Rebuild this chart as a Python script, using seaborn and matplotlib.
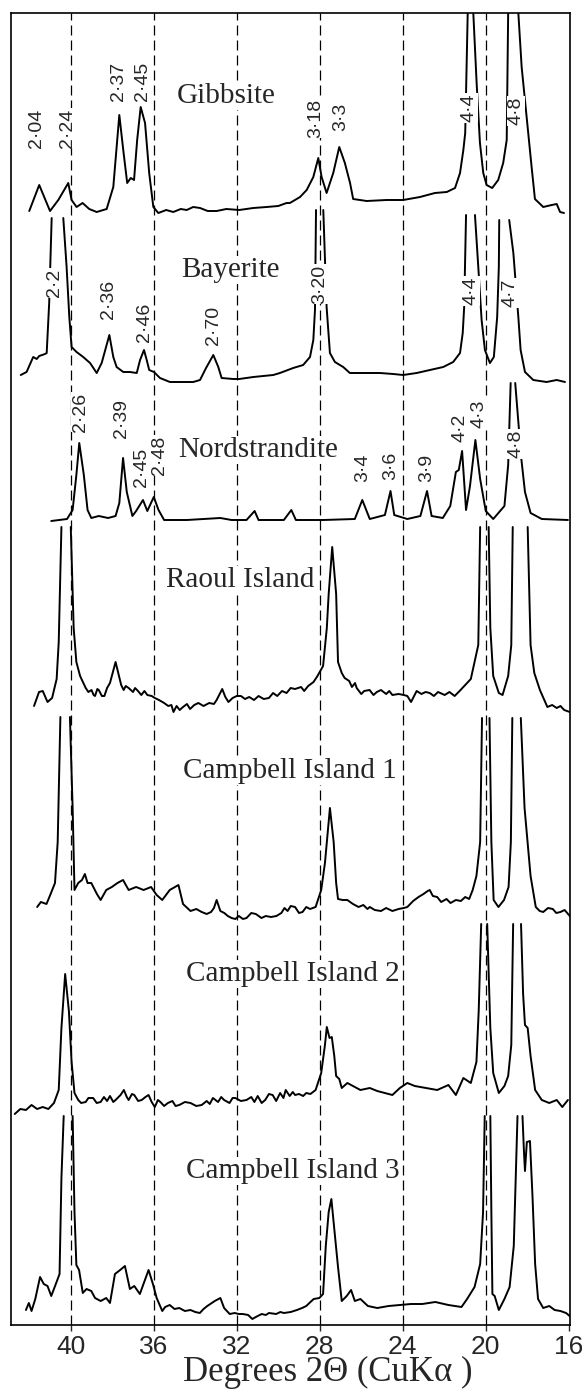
import matplotlib
matplotlib.use("Agg")
import matplotlib.pyplot as plt
import pandas as pd
import seaborn as sns

# X-ray diffractograms, stacked; None marks where a tall peak runs off (cut)
SAMPLES = ["Gibbsite", "Bayerite", "Nordstrandite", "Raoul Island",
           "Campbell Island 1", "Campbell Island 2", "Campbell Island 3"]
OFFSETS = [1115, 950, 805, 625, 415, 225, 20]

GIBBSITE_2THETA = [42.0, 41.52, 41.0, 40.6, 40.12, 39.96, 39.72, 39.43, 39.11, 38.75, 38.27,
                   37.95, 37.66, 37.47, 37.28, 37.11, 36.95, 36.8, 36.63, 36.42, 36.22, 36.02,
                   35.78, 35.4, 35.06, 34.7, 34.41, 34.1, 33.77, 33.4, 32.97, 32.5, 31.88, 31.2,
                   30.56, 30.0, 29.6, 29.44, 28.95, 28.63, 28.31, 28.07, 27.91, 27.67, 27.35,
                   27.06, 26.79, 26.54, 26.39, 25.74, 24.78, 23.98, 23.17, 22.45, 21.88, 21.48,
                   21.24, 21.08, 20.99, 20.87, None, 20.6, 20.44, 20.28, 20.12, 19.96, 19.69,
                   19.40, 19.16, 18.99, 18.92, None, 18.43, 18.27, 18.03, 17.79, 17.63, 17.23,
                   16.82, 16.58, 16.42, 16.23]
GIBBSITE_COUNTS = [-1, 25, -1, 10, 27, 10, 3, 7, 1, -2, 1,
                   23, 95, 60, 27, 32, 30, 70, 103, 87, 37, 3,
                   -3, 0, -2, 1, 0, 3, 2, -1, -1, 1, 0, 2,
                   3, 4, 7, 7, 13, 20, 33, 52, 33, 17, 37,
                   63, 47, 27, 11, 9, 10, 10, 13, 17, 18, 22,
                   37, 60, 77, 197, None, 197, 127, 67, 37, 25, 22,
                   30, 47, 70, 197, None, 197, 143, 93, 43, 11, 3,
                   5, 6, -2, -3]

BAYERITE_2THETA = [42.41, 42.13, 41.81, 41.64, 41.52, 41.24, 41.16, 41.04, 40.92, None,
                   40.36, 40.2, 40.07, 39.96, 39.72, 39.4, 39.07, 38.75, 38.51, 38.14, 37.95,
                   37.79, 37.47, 37.15, 36.82, 36.66, 36.47, 36.34, 36.22, 35.99, 35.7, 35.22,
                   34.58, 34.1, 33.77, 33.48, 33.13, 32.89, 32.73, 32.17, 31.88, 31.2, 30.24,
                   29.92, 29.28, 28.8, 28.47, 28.31, 28.23, 28.18, None, 27.83, 27.67, 27.51,
                   27.27, 26.87, 26.55, 25.9, 25.1, 24.46, 23.98, 23.33, 22.69, 22.05, 21.57,
                   21.24, 21.11, 21.04, 20.95, None, 20.52, 20.36, 20.2, 20.04, 19.8, 19.61,
                   19.45, 19.37, 19.35, None, 18.87, 18.67, 18.43, 18.32, 18.11, 17.71, 17.07,
                   16.58, 16.18]
BAYERITE_COUNTS = [0, 3, 18, 16, 19, 21, 22, 72, 157, None,
                   157, 108, 58, 28, 23, 18, 12, 2, 12, 40, 18,
                   8, 3, 3, 2, 15, 25, 15, 5, 3, -3, -7,
                   -7, -7, -5, 7, 20, 8, -3, -4, -4, -2, 0,
                   2, 7, 10, 18, 35, 65, 165, None, 165, 68, 22,
                   13, 8, 2, 2, 2, 1, 0, 2, 5, 8, 13,
                   22, 42, 68, 160, None, 160, 108, 55, 25, 12, 18,
                   58, 108, 155, None, 155, 122, 58, 25, 3, -5, -7,
                   -5, -7]

NORDSTRANDITE_2THETA = [40.94, 40.18, 39.91, 39.73, 39.59, 39.37, 39.19, 39.01, 38.65, 38.2,
                        37.84, 37.66, 37.48, 37.3, 37.03, 36.85, 36.52, 36.31, 36.0, 35.77,
                        35.5, 34.41, 32.79, 32.25, 31.53, 31.14, 30.95, 29.73, 29.37, 29.15,
                        27.84, 26.31, 25.95, 25.59, 24.86, 24.59, 24.41, 23.78, 23.15, 22.83,
                        22.61, 22.07, 21.71, 21.44, 21.3, 21.14, 20.95, 20.76, 20.5, 20.27,
                        20.0, 19.64, 19.1, 18.92, 18.8, None, 18.58, 18.29, 18.11, 17.84,
                        17.3, 16.04]
NORDSTRANDITE_COUNTS = [-1, 1, 10, 45, 77, 45, 10, 2, 4, 2,
                        4, 17, 62, 28, 4, 9, 20, 9, 23, 10,
                        0, 0, 2, 0, 0, 9, 0, 0, 10, 0,
                        0, 1, 20, 1, 5, 29, 5, 1, 4, 29,
                        4, 2, 14, 48, 50, 69, 10, 34, 80, 41,
                        9, 1, 14, 55, 137, None, 137, 62, 28, 7,
                        1, 0]

RAOUL_2THETA = [41.77, 41.53, 41.35, 41.12, 40.9, 40.68, 40.58, 40.45, None, 40.0, 39.86,
                39.73, 39.55, 39.28, 39.15, 39.0, 38.9, 38.83, 38.72, 38.65, 38.5, 38.38,
                38.25, 38.11, 37.84, 37.57, 37.45, 37.35, 37.21, 37.0, 36.9, 36.76, 36.6,
                36.45, 36.31, 36.1, 35.95, 35.75, 35.5, 35.3, 35.15, 35.05, 34.9, 34.75,
                34.59, 34.4, 34.25, 34.05, 33.85, 33.6, 33.33, 33.1, 32.97, 32.7, 32.55,
                32.4, 32.2, 32.0, 31.8, 31.6, 31.4, 31.17, 30.95, 30.7, 30.45, 30.25,
                30.05, 29.82, 29.6, 29.4, 29.19, 28.9, 28.75, 28.56, 28.3, 28.11, 27.84,
                27.66, 27.57, 27.4, 27.21, 27.12, 26.94, 26.8, 26.58, 26.45, 26.3, 26.22,
                26.0, 25.86, 25.6, 25.41, 25.25, 25.05, 24.8, 24.65, 24.5, 24.2, 23.95,
                23.78, 23.6, 23.33, 23.1, 22.9, 22.7, 22.5, 22.3, 21.98, 21.75, 21.5,
                21.26, 20.72, 20.36, 20.27, None, 19.86, 19.78, 19.64, 19.37, 19.19, 18.92,
                18.77, 18.7, None, 17.98, 17.84, 17.66, 17.39, 17.03, 16.8, 16.58, 16.4,
                16.22, 15.95]
RAOUL_COUNTS = [-6, 8, 9, -2, 2, 21, 58, 173, None, 173, 72,
                38, 24, 12, 8, 10, 5, 4, 11, 10, 4, 4,
                12, 17, 38, 15, 10, 14, 12, 8, 12, 9, 5,
                9, 5, 4, 2, 0, -3, -6, -5, -12, -6, -10,
                -7, -4, -9, -5, -3, -6, -3, -4, 0, 11, 3,
                -2, 2, 4, 4, 1, 3, 0, 4, 1, 2, 7,
                4, 9, 7, 12, 11, 13, 9, 14, 18, 24, 34,
                72, 106, 153, 106, 38, 27, 22, 19, 13, 17, 12,
                6, 9, 10, 5, 8, 10, 6, 9, 5, 6, 5,
                4, -2, 9, 6, 8, 7, 4, 8, 5, 8, 4,
                9, 21, 55, 173, None, 173, 72, 24, 7, 5, 24,
                55, 173, None, 173, 55, 27, 10, -7, -5, -8, -6,
                -10, -12]

CAMPBELL1_2THETA = [41.62, 41.44, 41.17, 40.99, 40.76, 40.63, 40.5, None, 40.04, 39.91, 39.82,
                    39.64, 39.46, 39.32, 39.19, 39.01, 38.74, 38.56, 38.29, 38.02, 37.75, 37.48,
                    37.21, 36.85, 36.49, 36.13, 35.86, 35.59, 35.23, 34.81, 34.59, 34.23, 33.95,
                    33.69, 33.45, 33.24, 33.1, 32.97, 32.79, 32.6, 32.43, 32.25, 32.07, 31.9,
                    31.7, 31.53, 31.3, 31.08, 30.81, 30.6, 30.35, 30.09, 29.85, 29.7, 29.55,
                    29.4, 29.19, 29.0, 28.83, 28.65, 28.47, 28.2, 27.93, 27.75, 27.51, 27.33,
                    27.21, 27.12, 26.9, 26.67, 26.4, 26.13, 25.9, 25.7, 25.59, 25.35, 25.05,
                    24.8, 24.5, 24.2, 23.95, 23.78, 23.5, 23.24, 23.0, 22.8, 22.7, 22.55,
                    22.34, 22.15, 21.89, 21.7, 21.44, 21.2, 20.99, 20.8, 20.63, 20.45, 20.27,
                    20.18, None, 19.82, 19.73, 19.62, 19.39, 19.12, 18.9, 18.79, 18.72, None,
                    18.31, 18.13, 17.84, 17.59, 17.4, 17.23, 17.0, 16.77, 16.6, 16.4, 16.2,
                    15.95]
CAMPBELL1_COUNTS = [3, 8, 6, 15, 27, 68, 193, None, 193, 102, 20,
                    27, 30, 36, 27, 27, 16, 10, 20, 23, 27, 30,
                    20, 23, 20, 23, 15, 10, 20, 25, 6, -1, 1,
                    -2, -4, -2, 2, 10, -1, -3, -6, -8, -9, -6,
                    -9, -8, -3, -4, -8, -6, -7, -6, -3, 2, -1,
                    4, 3, -3, -2, 3, 1, 3, 20, 47, 102, 68,
                    27, 11, 10, 10, 6, 3, 5, 1, 3, 0, -1,
                    2, -1, 1, 2, 3, 9, 13, 16, 19, 20, 14,
                    13, 8, 11, 7, 10, 9, 13, 11, 20, 34, 68,
                    192, None, 192, 68, 10, 3, 10, 23, 68, 192, None,
                    192, 102, 34, 3, -1, -2, 2, 1, -3, -2, 0,
                    -6]

CAMPBELL2_2THETA = [42.7, 42.43, 42.16, 41.89, 41.62, 41.35, 41.08, 40.81, 40.58, 40.45, 40.27,
                    40.09, 39.96, 39.82, 39.64, 39.5, 39.28, 39.15, 38.92, 38.75, 38.56, 38.4,
                    38.25, 38.11, 37.95, 37.84, 37.6, 37.44, 37.3, 37.21, 37.05, 36.94, 36.75,
                    36.58, 36.4, 36.25, 36.1, 35.95, 35.8, 35.68, 35.5, 35.32, 35.1, 34.95,
                    34.77, 34.5, 34.23, 33.95, 33.69, 33.45, 33.3, 33.15, 32.9, 32.75, 32.61,
                    32.35, 32.2, 32.07, 31.8, 31.53, 31.3, 31.15, 30.99, 30.8, 30.63, 30.45,
                    30.27, 30.1, 29.91, 29.75, 29.64, 29.45, 29.3, 29.19, 29.0, 28.8, 28.65,
                    28.45, 28.2, 27.93, 27.75, 27.66, 27.53, 27.42, 27.3, 27.21, 27.06, 26.94,
                    26.67, 26.4, 26.04, 25.59, 25.23, 24.5, 24.14, 23.78, 23.42, 22.88, 22.34,
                    21.8, 21.44, 21.08, 20.72, 20.45, 20.34, 20.22, None, 19.93, 19.78, 19.64,
                    19.37, 19.1, 18.92, 18.77, 18.68, None, 18.3, 18.2, 18.11, 17.98, 17.84,
                    17.62, 17.3, 16.94, 16.58, 16.31, 16.04]
CAMPBELL2_COUNTS = [-14, -9, -10, -5, -9, -7, -9, -3, 10, 72, 126,
                    89, 38, 7, 0, -3, -2, 2, 2, -3, -2, 3,
                    -1, 4, -2, 0, 5, 10, 3, 0, 6, 5, -1,
                    0, 3, 5, -2, -7, 0, -2, -6, -3, -1, -6,
                    -5, -2, -3, -6, -5, -1, -4, 2, -2, 3, 0,
                    -3, 2, 2, -1, 0, 3, -2, 4, -3, 0, 6,
                    5, -1, 7, 2, 10, 4, 8, 5, 6, 4, 7,
                    6, 10, 27, 55, 73, 62, 63, 44, 24, 21, 12,
                    17, 14, 10, 12, 9, 5, 12, 17, 14, 12, 10,
                    15, 5, 22, 17, 38, 89, 176, None, 176, 72, 27,
                    7, 14, 24, 55, 176, None, 176, 106, 75, 72, 44,
                    10, 0, -3, 0, -7, 0]

CAMPBELL3_2THETA = [42.16, 42.02, 41.89, 41.71, 41.48, 41.3, 41.12, 40.94, 40.72, 40.54, 40.45,
                    40.34, None, 39.91, 39.82, 39.73, 39.6, 39.42, 39.24, 39.01, 38.83, 38.56,
                    38.29, 38.11, 37.87, 37.62, 37.39, 37.15, 36.94, 36.67, 36.25, 36.04, 35.86,
                    35.59, 35.45, 35.23, 35.0, 34.77, 34.5, 34.23, 34.0, 33.78, 33.6, 33.42,
                    33.06, 32.79, 32.61, 32.34, 32.1, 31.9, 31.71, 31.45, 31.25, 31.08, 30.8,
                    30.6, 30.45, 30.1, 29.9, 29.73, 29.4, 29.1, 28.85, 28.65, 28.45, 28.29,
                    28.02, 27.84, 27.71, 27.57, 27.44, 27.3, 27.12, 26.94, 26.7, 26.49, 26.31,
                    26.04, 25.68, 25.23, 24.68, 24.14, 23.6, 23.06, 22.43, 21.8, 21.17, 20.9,
                    20.54, 20.27, 20.13, 20.05, None, 19.78, 19.73, 19.68, 19.57, 19.37, 19.1,
                    18.85, 18.65, 18.47, None, 18.23, 18.16, 18.11, 18.02, 17.87, 17.75, 17.62,
                    17.48, 17.23, 16.94, 16.68, 16.4, 16.13, 15.9]
CAMPBELL3_COUNTS = [-5, 2, -6, 6, 28, 21, 19, 9, 21, 31, 127,
                    189, None, 189, 93, 40, 35, 12, 16, 14, 7, 4,
                    7, 2, 31, 35, 39, 16, 19, 11, 35, 21, 7,
                    -6, -2, 0, -4, -3, -6, -5, -7, -8, -4, -1,
                    4, 7, -3, -9, -8, -9, -9, -10, -14, -12, -9,
                    -10, -8, -9, -7, -8, -7, -5, -3, -1, 3, 6,
                    7, 11, 59, 93, 106, 76, 38, 4, 9, 15, 4,
                    6, -1, -3, -1, 0, 1, 1, 3, 0, -2, 6,
                    18, 41, 93, 189, None, 189, 93, 11, 9, -5, 6,
                    18, 59, 189, None, 189, 154, 134, 163, 164, 110, 41,
                    6, -3, -1, -5, -6, -8, -12]

TRACES = {
    "Gibbsite": (GIBBSITE_2THETA, GIBBSITE_COUNTS),
    "Bayerite": (BAYERITE_2THETA, BAYERITE_COUNTS),
    "Nordstrandite": (NORDSTRANDITE_2THETA, NORDSTRANDITE_COUNTS),
    "Raoul Island": (RAOUL_2THETA, RAOUL_COUNTS),
    "Campbell Island 1": (CAMPBELL1_2THETA, CAMPBELL1_COUNTS),
    "Campbell Island 2": (CAMPBELL2_2THETA, CAMPBELL2_COUNTS),
    "Campbell Island 3": (CAMPBELL3_2THETA, CAMPBELL3_COUNTS),
}

# d-spacing labels (Å): text, 2theta, height on the stacked scale
PEAK_TEXT = ["2·04", "2·24", "2·37", "2·45", "3·18", "3·3", "4·4", "4·8",
             "2·2", "2·36", "2·46", "2·70", "3·20", "4·4", "4·7",
             "2·26", "2·39", "2·45", "2·48", "3·4", "3·6", "3·9", "4·2", "4·3", "4·8"]
PEAK_2THETA = [41.65, 40.14, 37.68, 36.52, 28.21, 26.99, 20.81, 18.56,
               40.76, 38.16, 36.47, 33.1, 27.99, 20.72, 18.83,
               39.55, 37.54, 36.58, 35.72, 25.91, 24.59, 22.85, 21.26, 20.32, 18.56]
PEAK_HEIGHT = [1197, 1197, 1244, 1244, 1207, 1208, 1217, 1214,
               1042, 1026, 1003, 1000, 1041, 1034, 1032,
               913, 907, 858, 870, 857, 859, 857, 897, 911, 881]

NAME_2THETA = [32.52, 32.3, 30.99, 31.83, 29.45, 29.32, 29.32]
NAME_HEIGHT = [1222, 1048, 868, 738, 547, 344, 147]

REF_LINES = [40, 36, 32, 28, 24, 20]
TICKS = [40, 36, 32, 28, 24, 20, 16]


def build_frame() -> pd.DataFrame:
    rows = []
    for sample, offset in zip(SAMPLES, OFFSETS):
        xs, ys = TRACES[sample]
        piece = 0
        for x, y in zip(xs, ys):
            if x is None:
                piece += 1
                continue
            rows.append({"sample": sample, "piece": f"{sample}-{piece}",
                         "two_theta": x, "signal": y + offset})
    return pd.DataFrame(rows)


sns.set_style("ticks")
plt.rcParams["font.family"] = ["Liberation Sans", "DejaVu Sans"]

W, H = 582, 1389
fig = plt.figure(figsize=(W / 100, H / 100), dpi=100)
ax = fig.add_axes([11 / W, 1 - 1325 / H, (570 - 11) / W, (1325 - 13) / H])

for x in REF_LINES:
    ax.axvline(x, color="black", lw=0.9, linestyle=(0, (8, 4)), zorder=1)

df = build_frame()
sns.lineplot(data=df, x="two_theta", y="signal", units="piece", estimator=None,
             sort=False, color="black", lw=1.4, ax=ax, zorder=2)

box = dict(facecolor="white", edgecolor="none", pad=0.4)
for text, x, y in zip(PEAK_TEXT, PEAK_2THETA, PEAK_HEIGHT):
    ax.text(x, y, text, rotation=90, ha="center", va="center", fontsize=14,
            family=["Liberation Sans", "DejaVu Sans"], bbox=box, zorder=3)

for name, x, y in zip(SAMPLES, NAME_2THETA, NAME_HEIGHT):
    ax.text(x, y, name, ha="center", va="baseline", fontsize=21,
            family=["Liberation Serif", "DejaVu Serif"], bbox=box, zorder=3)

ax.set_xlim(42.88, 15.94)
ax.set_ylim(0, 1312)
ax.set_xticks(TICKS)
ax.set_xticklabels([str(t) for t in TICKS])
ax.set_yticks([])
ax.set_xlabel("")
ax.set_ylabel("")
ax.tick_params(axis="x", direction="out", length=4, width=1, labelsize=19, pad=3)
for spine in ax.spines.values():
    spine.set_visible(True)
    spine.set_color("black")
    spine.set_linewidth(1.2)

fig.text(328 / W, 1 - 1381 / H, "Degrees 2Θ (CuKα )", ha="center", va="baseline",
         fontsize=25, family=["Liberation Serif", "DejaVu Serif"])

fig.savefig("out.png", dpi=100, facecolor="white")
